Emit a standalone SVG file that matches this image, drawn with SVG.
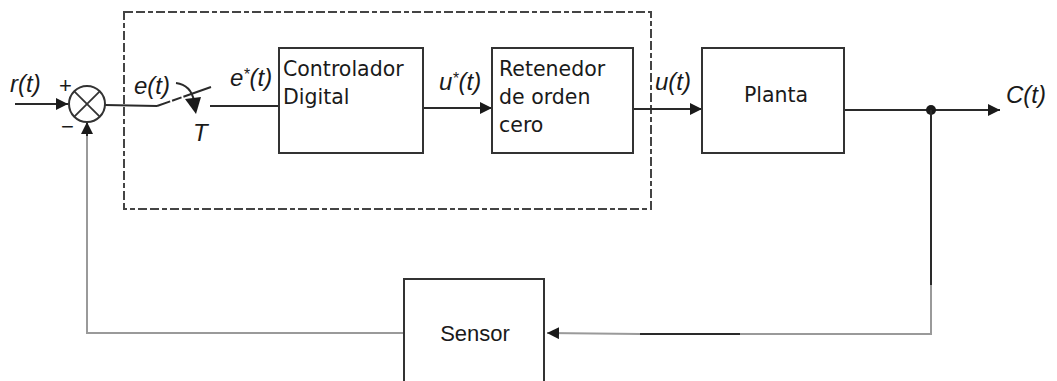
<svg xmlns="http://www.w3.org/2000/svg" width="1057" height="381" viewBox="0 0 1057 381">
  <style>
    .box { fill: #fff; stroke: #333; stroke-width: 2; }
    .wire { fill: none; stroke: #2a2a2a; stroke-width: 2; }
    .fb { fill: none; stroke: #9a9a9a; stroke-width: 2; }
    .frame { fill: none; stroke: #444; stroke-width: 2; stroke-dasharray: 9 3 9 3 5 3; }
    .blk { font-family: "DejaVu Sans", Verdana, sans-serif; font-size: 20.5px; fill: #1a1a1a; }
    .sig { font-family: "Liberation Sans", Arial, sans-serif; font-style: italic; font-size: 24px; fill: #1a1a1a; }
    .sgn { font-family: "Liberation Sans", Arial, sans-serif; font-size: 22px; fill: #1a1a1a; }
  </style>
  <defs>
    <marker id="arrow" viewBox="0 0 12 12" refX="12" refY="6" markerWidth="12" markerHeight="12" markerUnits="userSpaceOnUse" orient="auto">
      <path d="M0,0 L12,6 L0,12 Z" fill="#1a1a1a"/>
    </marker>
  </defs>

  <rect width="1057" height="381" fill="#fff"/>

  <!-- digital part enclosure -->
  <rect id="digital-frame" class="frame" x="124" y="12" width="527" height="197"/>

  <g id="connectors">
    <!-- reference input -->
    <line class="wire" x1="15" y1="104" x2="68" y2="104" marker-end="url(#arrow)"/>
    <!-- error to sampler -->
    <line class="wire" x1="105" y1="105" x2="157" y2="106"/>
    <!-- sampler blade -->
    <line class="wire" x1="157" y1="106" x2="211" y2="87" stroke-dasharray="14 2 10 2 30"/>
    <!-- sampler period arrow -->
    <path class="wire" d="M176,83 Q191,85 194,101" stroke-width="1.5"/>
    <path d="M185,99 L201,97 L196,114 Z" fill="#1a1a1a"/>
    <!-- sampled error to controller -->
    <line class="wire" x1="210" y1="106" x2="279" y2="106"/>
    <!-- controller to hold -->
    <line class="wire" x1="423" y1="108" x2="492" y2="108" marker-end="url(#arrow)"/>
    <!-- hold to plant -->
    <line class="wire" x1="633" y1="109" x2="702" y2="109" marker-end="url(#arrow)"/>
    <!-- plant output -->
    <line class="wire" x1="844" y1="110" x2="1000" y2="110" marker-end="url(#arrow)"/>
    <circle cx="931" cy="110" r="5" fill="#1a1a1a"/>
    <!-- feedback branch -->
    <line class="wire" x1="931" y1="110" x2="931" y2="285"/>
    <polyline class="fb" points="931,285 931,334 740,334"/>
    <line class="wire" x1="740" y1="334" x2="640" y2="334" stroke="#555"/>
    <line class="fb" x1="640" y1="334" x2="547" y2="333" marker-end="url(#arrow)"/>
    <!-- sensor back to summing junction -->
    <polyline class="fb" points="404,333 87,333 87,135"/>
    <line class="wire" x1="87" y1="136" x2="87" y2="122" marker-end="url(#arrow)"/>
  </g>

  <g id="sum">
    <circle cx="87" cy="104" r="18" fill="#fff" stroke="#333" stroke-width="2"/>
    <line x1="74.3" y1="91.3" x2="99.7" y2="116.7" stroke="#333" stroke-width="1.8"/>
    <line x1="99.7" y1="91.3" x2="74.3" y2="116.7" stroke="#333" stroke-width="1.8"/>
    <text class="sgn" x="59" y="93">+</text>
    <text class="sgn" x="61" y="134">−</text>
  </g>

  <g id="sampler">
    <text class="sig" x="193" y="141">T</text>
  </g>

  <g id="controlador">
    <rect class="box" x="279" y="48" width="144" height="105"/>
    <text class="blk" x="283" y="76">Controlador</text>
    <text class="blk" x="283" y="104">Digital</text>
  </g>

  <g id="retenedor">
    <rect class="box" x="492" y="48" width="141" height="105"/>
    <text class="blk" x="499" y="76">Retenedor</text>
    <text class="blk" x="499" y="104">de orden</text>
    <text class="blk" x="499" y="132">cero</text>
  </g>

  <g id="planta">
    <rect class="box" x="702" y="48" width="142" height="105"/>
    <text class="blk" x="776" y="102" text-anchor="middle" font-size="21.5">Planta</text>
  </g>

  <g id="sensor">
    <rect class="box" x="404" y="279" width="140" height="120"/>
    <text class="sgn" x="475" y="341" text-anchor="middle" font-size="24">Sensor</text>
  </g>

  <g id="labels">
    <text class="sig" x="10" y="92">r(t)</text>
    <text class="sig" x="134" y="94">e(t)</text>
    <text class="sig" x="230" y="86">e<tspan font-size="16" dy="-6">*</tspan><tspan dy="6">(t)</tspan></text>
    <text class="sig" x="439" y="90">u<tspan font-size="16" dy="-6">*</tspan><tspan dy="6">(t)</tspan></text>
    <text class="sig" x="655" y="90">u(t)</text>
    <text class="sig" x="1006" y="103">C(t)</text>
  </g>
</svg>
